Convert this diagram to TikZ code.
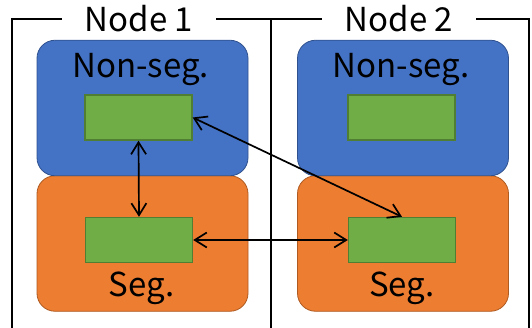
\documentclass[tikz,border=0pt]{standalone}
\usepackage{fontspec}
\setmainfont{Noto Sans CJK JP}
\usetikzlibrary{arrows.meta}
\definecolor{nsblue}{HTML}{4472C4}
\definecolor{nsblueline}{HTML}{2F528F}
\definecolor{sgorange}{HTML}{ED7D31}
\definecolor{sgorangeline}{HTML}{AE5A21}
\definecolor{bufgreen}{HTML}{70AD47}
\definecolor{bufgreenline}{HTML}{507E32}
\tikzset{
    region/.style={rounded corners=18pt, minimum width=211pt, minimum height=135.5pt, inner sep=0pt, line width=0.8pt},
    buffer/.style={fill=bufgreen, draw=bufgreenline, line width=1.4pt, minimum width=107pt, minimum height=45pt, inner sep=0pt},
    label/.style={font=\fontsize{33}{33}\selectfont, inner sep=0pt, anchor=base},
    link/.style={{Straight Barb[length=12pt,width=15pt]}-{Straight Barb[length=12pt,width=15pt]}, line width=1.7pt}
}
\begin{document}
\begin{tikzpicture}[x=1pt, y=-1pt]
    \useasboundingbox (0,0) rectangle (532,328);
    \node[font=\fontsize{33}{33}\selectfont, inner ysep=0pt, inner xsep=23pt] (title1) at (139,19) {Node 1};
    \node[font=\fontsize{33}{33}\selectfont, inner ysep=0pt, inner xsep=23pt] (title2) at (399,19) {Node 2};
    \draw[line width=1.7pt] (12,328) -- (12,19) -- (title1.west);
    \draw[line width=1.7pt] (title1.east) -- (271,19) -- (title2.west);
    \draw[line width=1.7pt] (title2.east) -- (529,19) -- (529,328);
    \draw[line width=1.7pt] (271,19) -- (271,328);
    \foreach \n/\x in {1/142.5, 2/403} {
        \node[region, fill=sgorange, draw=sgorangeline] (seg\n) at (\x,243.5) {};
        \node[region, fill=nsblue, draw=nsblueline] (nonseg\n) at (\x,108) {};
        \node[label] (nonsegtext\n) at (\x-2,78) {Non-seg.};
        \node[label] (segtext\n) at (\x-1,297) {Seg.};
    }
    \node[buffer] (buf1a) at (138.5,117.5) {};
    \node[buffer] (buf1b) at (139,240) {};
    \node[buffer] (buf2a) at (401.5,117.5) {};
    \node[buffer] (buf2b) at (402,240) {};
    \draw[link] (buf1a.south) -- (buf1b.north);
    \draw[link] (buf1a.east) -- (buf2b.north);
    \draw[link] (buf1b.east) -- (buf2b.west);
\end{tikzpicture}
\end{document}
